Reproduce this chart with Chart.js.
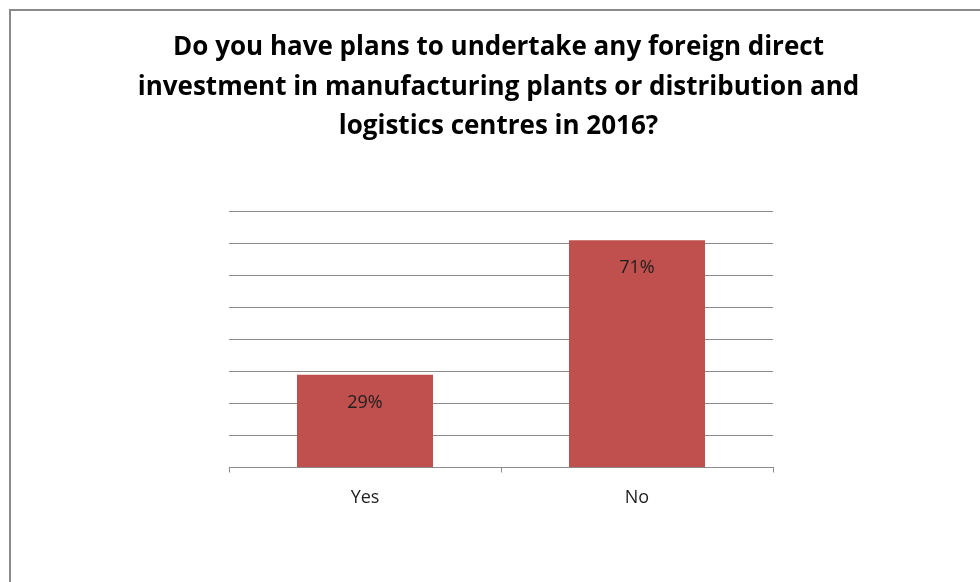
<!DOCTYPE html>
<html>
<head>
<meta charset="utf-8">
<script src="https://cdn.jsdelivr.net/npm/chart.js@4/dist/chart.umd.min.js"></script>
<style>
  html, body { margin: 0; padding: 0; background: #fff; }
  #wrap { width: 980px; height: 582px; position: relative; }
</style>
</head>
<body>
<div id="wrap"><canvas id="c" width="980" height="582"></canvas></div>
<script>
const titleLines = [
  'Do you have plans to undertake any foreign direct',
  'investment in manufacturing plants or distribution and',
  'logistics centres in 2016?'
];
const categories = ['Yes', 'No'];
const shares = [29, 71];
const yTicks = [0, 10, 20, 30, 40, 50, 60, 70, 80];

const FONT = '"Open Sans", Lato, sans-serif';

// Outer frame of the chart object (top and left edges)
const framePlugin = {
  id: 'frame',
  beforeDraw(chart) {
    const ctx = chart.ctx;
    ctx.save();
    ctx.strokeStyle = '#8a8a8a';
    ctx.lineWidth = 2;
    ctx.beginPath();
    ctx.moveTo(10, 582);
    ctx.lineTo(10, 10);
    ctx.lineTo(980, 10);
    ctx.stroke();
    ctx.restore();
  }
};

// Percentage labels inside the top of each bar
const valueLabels = {
  id: 'valueLabels',
  afterDatasetsDraw(chart) {
    const ctx = chart.ctx;
    const meta = chart.getDatasetMeta(0);
    ctx.save();
    ctx.font = '18px ' + FONT;
    ctx.fillStyle = '#1e1e1e';
    ctx.textAlign = 'center';
    ctx.textBaseline = 'middle';
    meta.data.forEach((bar, i) => {
      ctx.fillText(shares[i] + '%', bar.x, bar.y + 28);
    });
    ctx.restore();
  }
};

new Chart(document.getElementById('c'), {
  type: 'bar',
  data: {
    labels: categories,
    datasets: [{
      data: shares,
      backgroundColor: '#C0504D',
      borderWidth: 0,
      barPercentage: 0.5,
      categoryPercentage: 1.0
    }]
  },
  options: {
    responsive: false,
    animation: false,
    events: [],
    layout: { padding: { left: 17, right: 0, top: 0, bottom: 0 } },
    plugins: {
      legend: { display: false },
      tooltip: { enabled: false },
      title: {
        display: true,
        text: titleLines,
        color: '#000',
        font: { family: FONT, size: 26, weight: 'bold', lineHeight: 1.52 },
        padding: { top: 28, bottom: 65 }
      }
    },
    scales: {
      x: {
        offset: true,
        grid: {
          display: true,
          offset: true,
          drawOnChartArea: false,
          drawTicks: true,
          tickLength: 5,
          color: '#8a8a8a',
          lineWidth: 1
        },
        border: { display: true, color: '#8a8a8a', width: 1 },
        ticks: {
          color: '#1e1e1e',
          font: { family: FONT, size: 18 },
          padding: 15
        },
        afterFit(axis) { axis.height = 114.5; }
      },
      y: {
        min: 0,
        max: 80,
        afterBuildTicks(axis) { axis.ticks = yTicks.map(v => ({ value: v })); },
        ticks: { display: false },
        grid: { color: '#8a8a8a', lineWidth: 1, drawTicks: false },
        border: { display: false },
        afterFit(axis) { axis.width = 212; }
      },
      // empty right-hand margin beside the plot
      yRight: {
        position: 'right',
        min: 0,
        max: 80,
        ticks: { display: false },
        grid: { display: false },
        border: { display: false },
        afterFit(axis) { axis.width = 207; }
      }
    }
  },
  plugins: [framePlugin, valueLabels]
});
</script>
</body>
</html>
